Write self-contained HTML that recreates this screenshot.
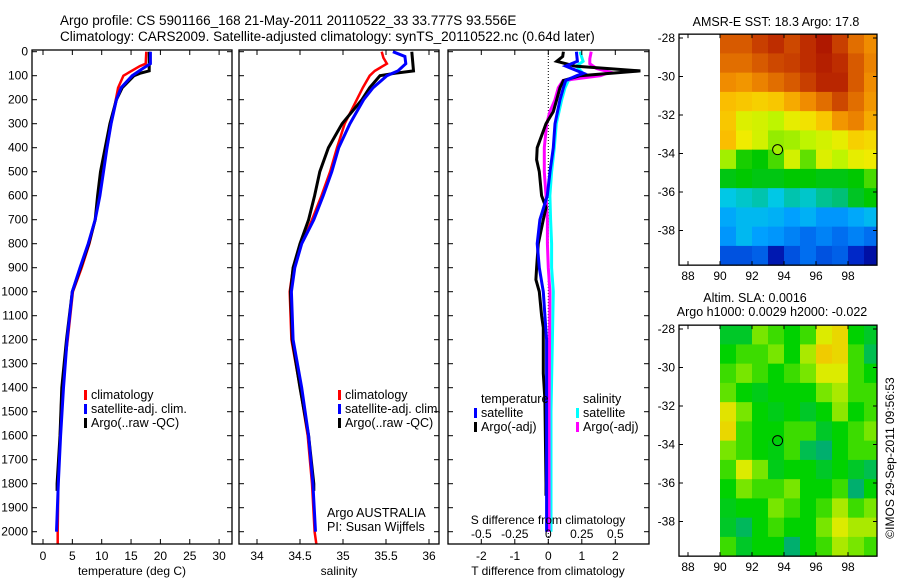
<!DOCTYPE html>
<html><head><meta charset="utf-8">
<style>
html,body{margin:0;padding:0;background:#fff;}
svg{display:block;font-family:"Liberation Sans",sans-serif;}
text{fill:#000;}
</style></head>
<body>
<svg id="fig" width="900" height="580" viewBox="0 0 900 580" xmlns="http://www.w3.org/2000/svg">
<text x="60" y="25" font-size="13.5">Argo profile: CS 5901166_168 21-May-2011 20110522_33 33.777S 93.556E</text>
<text x="60" y="41" font-size="13.5">Climatology: CARS2009. Satellite-adjusted climatology: synTS_20110522.nc (0.64d later)</text>
<g id="g1"></g>
<g id="g2"></g>
<g id="g3"></g>
<g id="m1"></g>
<g id="m2"></g>
<text transform="translate(894,458) rotate(-90)" text-anchor="middle" font-size="12">©IMOS 29-Sep-2011 09:56:53</text>
</svg>
<script>
// ---------- profile data ----------
const depthTclim = [0,50,60,100,150,200,300,400,500,600,700,800,900,1000,1200,1400,1600,1800,2000,2050];
const tempClim   = [17.6,17.5,16.5,13.7,12.8,12.4,11.6,10.9,10.2,9.6,8.9,7.9,6.6,5.1,4.2,3.2,2.9,2.6,2.5,2.5];
const depthTsat  = [0,50,70,100,150,200,300,400,500,600,700,800,900,1000,1200,1400,1600,1800,2000];
const tempSat    = [18.3,18.3,17.0,15.2,13.3,12.5,11.6,10.9,10.3,9.7,8.9,7.7,6.3,5.0,4.1,3.5,3.0,2.6,2.3];
const depthTargo = [0,80,90,100,150,200,300,400,500,600,700,800,900,1000,1200,1400,1600,1800,1830];
const tempArgo   = [18.1,18.1,16.5,15.5,13.5,12.5,11.4,10.6,9.8,9.3,8.9,7.8,6.4,5.0,4.0,3.2,2.9,2.4,2.4];

const depthS     = [0,25,50,80,100,150,200,300,400,500,600,700,800,900,1000,1200,1400,1600,1800,2000,2050];
const salClim    = [35.45,35.47,35.51,35.37,35.31,35.23,35.16,35.02,34.93,34.85,34.75,34.64,34.52,34.42,34.38,34.40,34.50,34.59,34.64,34.67,34.69];
const depthSsat  = [0,20,50,80,100,150,200,300,400,500,600,700,800,900,1000,1200,1400,1600,1800,2000];
const salSat     = [35.58,35.72,35.73,35.64,35.51,35.35,35.24,35.08,34.95,34.87,34.77,34.66,34.52,34.44,34.40,34.42,34.52,34.60,34.65,34.68];
const depthSargo = [0,80,90,100,150,200,300,400,500,600,700,800,900,1000,1200,1400,1600,1800,1830];
const salArgo    = [35.80,35.82,35.60,35.43,35.31,35.22,34.99,34.83,34.73,34.67,34.60,34.50,34.42,34.39,34.41,34.50,34.60,34.66,34.66];

const depthDTargo = [0,20,40,60,80,100,120,150,200,250,300,400,450,500,600,650,700,800,900,950,1000,1100,1150,1340,1450,1800,1850];
const dTargo      = [0.45,0.43,0.25,0.8,2.75,0.95,0.45,0.35,0.25,0.15,-0.07,-0.33,-0.35,-0.27,-0.2,-0.07,-0.15,-0.3,-0.35,-0.37,-0.27,-0.2,-0.15,-0.15,-0.1,-0.07,-0.07];
const depthDTsat  = [0,40,60,90,100,120,150,200,300,400,500,600,700,800,900,1000,1100,1200,1600,2000];
const dTsat       = [0.84,0.87,0.52,1.05,0.85,0.52,0.45,0.35,0.2,0.15,0.05,-0.03,-0.25,-0.33,-0.27,-0.15,-0.1,-0.05,-0.05,-0.05];
const depthDSsat  = [0,40,60,90,100,120,150,200,300,400,500,600,700,800,900,1000,1500,2000];
const dSsat       = [0.236,0.26,0.21,0.26,0.25,0.15,0.125,0.1,0.06,0.045,0.025,0.012,0.017,0.025,0.025,0.037,0.02,0.02];
const depthDSargo = [0,30,50,70,85,100,120,150,200,250,300,400,500,600,700,800,900,1000,1500,2000];
const dSargo      = [0.32,0.31,0.31,0.36,0.46,0.39,0.11,0.075,0.05,0.012,-0.012,-0.03,-0.03,-0.017,-0.007,-0.007,0,0.012,0.005,0.005];

const depthTicks = [0,100,200,300,400,500,600,700,800,900,1000,1100,1200,1300,1400,1500,1600,1700,1800,1900,2000];
const tTicks = [0,5,10,15,20,25,30];
const sTicks = [34,34.5,35,35.5,36];
const sTickLabels = ["34","34.5","35","35.5","36"];
const dTTicks = [-2,-1,0,1,2];
const dSTicks = [-0.5,-0.25,0,0.25,0.5];
const dSTickLabels = ["-0.5","-0.25","0","0.25","0.5"];

// ---------- map data ----------
const lonTicks = [88,90,92,94,96,98];
const latTicks = [-28,-30,-32,-34,-36,-38];
const gridLon0 = 90, gridLat0 = -27.8; // cells 1 deg
const sstGrid = [
[20,20,20.3,20.5,20.2,20.5,20.8,20.3,19.8,19.5],
[19.8,19.8,20,20.2,20.3,20.5,20.7,20.5,20,19.6],
[19.5,19.4,19.6,19.8,20,20.3,20.6,20.6,20,19.5],
[19,18.9,18.8,18.9,19.2,19.5,19.8,20.2,19.8,19.4],
[18.9,18.3,18.2,18,18.4,18.6,18.9,19.4,19.6,19.2],
[19,18.5,18.2,17.7,17.8,18,18.2,18.4,18.8,18.7],
[17.8,17.1,17,17.3,18.2,17.4,18.3,18.0,18.4,18.5],
[16.9,17.0,16.9,16.9,17,17,16.9,16.9,17.0,17.3],
[16,16.1,16.2,16.0,16.2,16.1,16.3,16.4,16.8,17],
[15.6,15.8,15.8,15.7,15.5,15.7,15.4,15.4,15.6,15.8],
[15.4,15.8,15.5,15.4,15.2,15.0,15.2,15.0,15.2,15.0],
[14.8,14.8,14.9,14.3,14.8,15,14.8,14.9,14.5,14.2]];
const slaGrid = [
[-0.05,-0.05,0.1,0.05,0,0.05,0.2,0.25,0.0,-0.05],
[0,0.05,0.05,0.1,0,0.15,0.28,0.25,0.05,-0.1],
[0.05,0.1,0.05,0,0.05,0.1,0.2,0.2,0.05,0],
[0.08,0,-0.03,0,0,0,0.1,0.15,0.05,0.05],
[0.22,0.1,0,-0.03,0,-0.05,0,0.12,0,0.05],
[0.25,0.05,0,0,0.05,0.05,-0.05,0,0.05,0.1],
[0.1,0.05,0,-0.02,0.05,-0.1,-0.15,0,0.05,0.05],
[0.05,0.2,0.1,-0.03,0,0,-0.05,0,-0.05,-0.1],
[0,0.1,0.05,0.05,0.1,0,0,0.05,-0.15,0],
[-0.03,0,0,0.1,0.05,0,0.05,0.15,0.05,0.1],
[-0.05,-0.12,0,0.05,0,0,0.1,0.2,0.15,0.15],
[0.05,-0.05,0,0,-0.15,0,0.05,0.15,0.1,0.05]];
const argoPos = [93.6,-33.8];
const argoSST = 17.8;

const NS='http://www.w3.org/2000/svg';
function mk(parent,tag,attrs){const e=document.createElementNS(NS,tag);for(const k in attrs)e.setAttribute(k,attrs[k]);parent.appendChild(e);return e;}
function txt(parent,x,y,s,anchor,size){const t=mk(parent,'text',{x:x,y:y,'text-anchor':anchor||'start','font-size':size||12});t.textContent=s;return t;}

const TOP=50,BOT=544;
const yD=d=>51.7+0.24*d;

function frame(g,x0,x1,name){
  const r=mk(g,'rect',{x:x0,y:TOP,width:x1-x0,height:BOT-TOP,fill:'none',stroke:'#000','stroke-width':1.3});
  
  
  depthTicks.forEach(d=>{
    mk(g,'line',{x1:x0,x2:x0+5,y1:yD(d),y2:yD(d),stroke:'#000'});
    mk(g,'line',{x1:x1-5,x2:x1,y1:yD(d),y2:yD(d),stroke:'#000'});
  });
}
function xticks(g,vals,labels,sx,ly){
  vals.forEach((v,i)=>{const x=sx(v);
    mk(g,'line',{x1:x,x2:x,y1:TOP,y2:TOP+5,stroke:'#000'});
    mk(g,'line',{x1:x,x2:x,y1:BOT-5,y2:BOT,stroke:'#000'});
    if(ly){const t=txt(g,x,ly,labels[i],'middle');
      
      }
  });
}
function line(g,xs,ds,sx,color,w,name){
  const pts=xs.map((v,i)=>sx(v).toFixed(1)+','+yD(ds[i]).toFixed(1)).join(' ');
  const p=mk(g,'polyline',{points:pts,fill:'none',stroke:color,'stroke-width':w,'stroke-linejoin':'miter'});
  
  
}
function legend(g,x,y,color,label,name){
  mk(g,'rect',{x:x,y:y-8,width:3,height:10,fill:color});
  const t=txt(g,x+7,y+1,label,'start',12.5);
  
  
}

// Panel 1
const g1=document.getElementById('g1');
const sxT=v=>43+5.87*v;
depthTicks.forEach(d=>{const t=txt(g1,28,yD(d)+4,String(d),'end');
  
  });
line(g1,tempClim,depthTclim,sxT,'#f00',2.5,'temp-climatology-line');
line(g1,tempArgo,depthTargo,sxT,'#000',3,'temp-argo-line');
line(g1,tempSat,depthTsat,sxT,'#00f',3,'temp-satellite-line');
frame(g1,32,232,'temperature');
xticks(g1,tTicks,tTicks.map(String),sxT,560);
{const t=txt(g1,132,575,'temperature (deg C)','middle');}
legend(g1,84,398,'#f00','climatology','legend-climatology');
legend(g1,84,412,'#00f','satellite-adj. clim.','legend-satellite');
legend(g1,84,426,'#000','Argo(..raw -QC)','legend-argo');

// Panel 2
const g2=document.getElementById('g2');
const sxS=v=>257+86*(v-34);
line(g2,salClim,depthS,sxS,'#f00',2.5,'sal-climatology-line');
line(g2,salArgo,depthSargo,sxS,'#000',3,'sal-argo-line');
line(g2,salSat,depthSsat,sxS,'#00f',3,'sal-satellite-line');
frame(g2,239,439,'salinity');
xticks(g2,sTicks,sTickLabels,sxS,560);
{const t=txt(g2,339,575,'salinity','middle');}
legend(g2,338,398,'#f00','climatology','legend-climatology');
legend(g2,338,412,'#00f','satellite-adj. clim.','legend-satellite');
legend(g2,338,426,'#000','Argo(..raw -QC)','legend-argo');
{const t=txt(g2,327,517,'Argo AUSTRALIA','start',12.5);}
{const t=txt(g2,327,531,'PI: Susan Wijffels','start',12.5);}

// Panel 3
const g3=document.getElementById('g3');
const sxDT=v=>548.3+33.5*v;
const sxDS=v=>548.3+134*v;
mk(g3,'line',{x1:548.3,x2:548.3,y1:TOP,y2:BOT,stroke:'#000','stroke-dasharray':'1,2'});
line(g3,dSsat,depthDSsat,sxDS,'#0ff',3,'sdiff-satellite-line');
line(g3,dSargo,depthDSargo,sxDS,'#f0f',3,'sdiff-argo-line');
line(g3,dTargo,depthDTargo,sxDT,'#000',3,'tdiff-argo-line');
line(g3,dTsat,depthDTsat,sxDT,'#00f',3,'tdiff-satellite-line');
frame(g3,448,649,'difference');
xticks(g3,dTTicks,dTTicks.map(String),sxDT,560);
dSTicks.forEach((v,i)=>{const t=txt(g3,sxDS(v),538,dSTickLabels[i],'middle');
  
  });
{const t=txt(g3,548,524,'S difference from climatology','middle');}
{const t=txt(g3,548,575,'T difference from climatology','middle');}
{const t=txt(g3,481,403,'temperature','start',12.5);}
{const t=txt(g3,583,403,'salinity','start',12.5);}
legend(g3,474,416,'#00f','satellite','legend-t-satellite');
legend(g3,474,430,'#000','Argo(-adj)','legend-t-argo');
legend(g3,576,416,'#0ff','satellite','legend-s-satellite');
legend(g3,576,430,'#f0f','Argo(-adj)','legend-s-argo');

// ---------- maps ----------
const sstStops=[[14.0,[0,0,140]],[14.5,[0,40,200]],[15.0,[0,110,240]],[15.5,[0,160,255]],[16.0,[0,200,230]],[16.5,[0,190,90]],[17.0,[0,200,0]],[17.5,[120,230,0]],[18.0,[190,245,0]],[18.5,[240,235,0]],[19.0,[250,190,0]],[19.5,[240,140,0]],[20.0,[215,90,0]],[20.5,[190,45,0]],[21.0,[165,10,0]]];
const slaStops=[[-0.2,[0,160,140]],[-0.1,[0,190,80]],[0,[0,210,0]],[0.1,[120,230,0]],[0.2,[220,235,0]],[0.3,[245,195,0]]];
function cmap(stops,v){
  if(v<=stops[0][0])return stops[0][1];
  for(let i=1;i<stops.length;i++){if(v<=stops[i][0]){const a=stops[i-1],b=stops[i],f=(v-a[0])/(b[0]-a[0]);
    return a[1].map((c,k)=>Math.round(c+f*(b[1][k]-c)));}}
  return stops[stops.length-1][1];
}
function drawMap(gid,top,grid,stops,fillArgo,name){
  const g=document.getElementById(gid);
  const L=679,R=877,ppdX=16,ppdY=19.25;
  const lat28Y=top+5;
  const sx=lon=>720+(lon-90)*ppdX;
  const sy=lat=>lat28Y+(-28-lat)*ppdY;
  const boxTop=sy(-27.8),boxBot=sy(-39.8);
  grid.forEach((row,r)=>row.forEach((v,c)=>{
    const x0=sx(gridLon0+c),x1=Math.min(sx(gridLon0+c+1),R);
    const y0=sy(gridLat0-r),y1=sy(gridLat0-r-1);
    const col=cmap(stops,v);
    const cell=mk(g,'rect',{x:x0,y:y0,width:x1-x0+0.5,height:y1-y0+0.5,fill:'rgb('+col.join(',')+')'});
    
    
  }));
  const box=mk(g,'rect',{x:L,y:boxTop,width:R-L,height:boxBot-boxTop,fill:'none',stroke:'#000','stroke-width':1.3});
  
  
  lonTicks.forEach(l=>{const x=sx(l);
    mk(g,'line',{x1:x,x2:x,y1:boxTop,y2:boxTop+4,stroke:'#000'});
    mk(g,'line',{x1:x,x2:x,y1:boxBot-4,y2:boxBot,stroke:'#000'});
    const t=txt(g,x,boxBot+15,String(l),'middle');
    
    });
  latTicks.forEach(l=>{const y=sy(l);
    mk(g,'line',{x1:L,x2:L+4,y1:y,y2:y,stroke:'#000'});
    mk(g,'line',{x1:R-4,x2:R,y1:y,y2:y,stroke:'#000'});
    const t=txt(g,675,y+4,String(l),'end');
    
    });
  const ac=mk(g,'ellipse',{cx:sx(argoPos[0]),cy:sy(argoPos[1]),rx:5,ry:5,fill:fillArgo,stroke:'#000','stroke-width':1});
  
  
}
drawMap('m1',33,sstGrid,sstStops,'rgb('+cmap(sstStops,argoSST).join(',')+')','sst-map');
drawMap('m2',324,slaGrid,slaStops,'none','sla-map');
{const g=document.getElementById('m1');const t=txt(g,776,26,'AMSR-E SST: 18.3 Argo: 17.8','middle',12.5);}
{const g=document.getElementById('m2');const t=txt(g,755,302,'Altim. SLA: 0.0016','middle',12.5);
 const t2=txt(g,772,316,'Argo h1000: 0.0029 h2000: -0.022','middle',12.5);}
</script>
</body></html>
